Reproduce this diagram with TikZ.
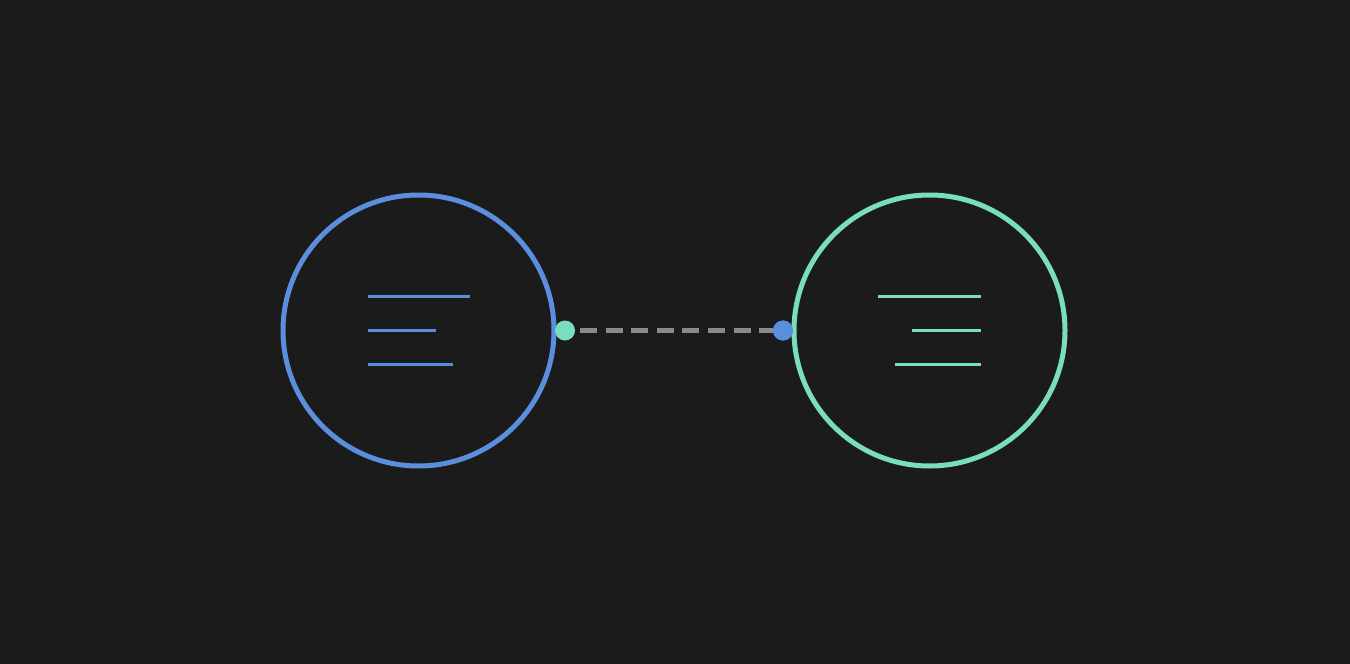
\documentclass[tikz,border=0pt]{standalone}
\definecolor{bg}{HTML}{1B1B1B}
\definecolor{cblue}{HTML}{5B8FDE}
\definecolor{cgreen}{HTML}{79DEC0}
\definecolor{cgray}{HTML}{8A8A8A}
\tikzset{
  ring/.style={circle, draw=#1, line width=5pt, inner sep=0pt, outer sep=0pt, minimum size=271pt},
  bar/.style={draw=#1, line width=3.2pt},
  dot/.style={circle, fill=#1, inner sep=0pt, outer sep=0pt, minimum size=20pt},
  link/.style={draw=cgray, line width=5pt, dash pattern=on 17pt off 8.6pt, shorten <=5pt}
}
\begin{document}
\begin{tikzpicture}[x=1pt,y=-1pt]
\fill[bg] (0,0) rectangle (1350,664);
\useasboundingbox (0,0) rectangle (1350,664);
\node[ring=cblue] (L) at (418.5,330.5) {};
\node[ring=cgreen] (R) at (929.5,330.5) {};
% left bars
\coordinate (l1a) at (368,296.5); \coordinate (l1b) at (469.5,296.5);
\coordinate (l2a) at (368,330.5); \coordinate (l2b) at (435.5,330.5);
\coordinate (l3a) at (368,364.5); \coordinate (l3b) at (452.5,364.5);
\draw[bar=cblue] (l1a) -- (l1b);
\draw[bar=cblue] (l2a) -- (l2b);
\draw[bar=cblue] (l3a) -- (l3b);
% right bars
\coordinate (r1a) at (878.3,296.5); \coordinate (r1b) at (980.5,296.5);
\coordinate (r2a) at (912.3,330.5); \coordinate (r2b) at (980.5,330.5);
\coordinate (r3a) at (895.3,364.5); \coordinate (r3b) at (980.5,364.5);
\draw[bar=cgreen] (r1a) -- (r1b);
\draw[bar=cgreen] (r2a) -- (r2b);
\draw[bar=cgreen] (r3a) -- (r3b);
% connector
\node[dot=cgreen] (g) at (565,330.5) {};
\node[dot=cblue] (b) at (783,330.5) {};
\draw[link] (g) -- (b);
\node[dot=cblue] at (b) {};
\end{tikzpicture}
\end{document}
